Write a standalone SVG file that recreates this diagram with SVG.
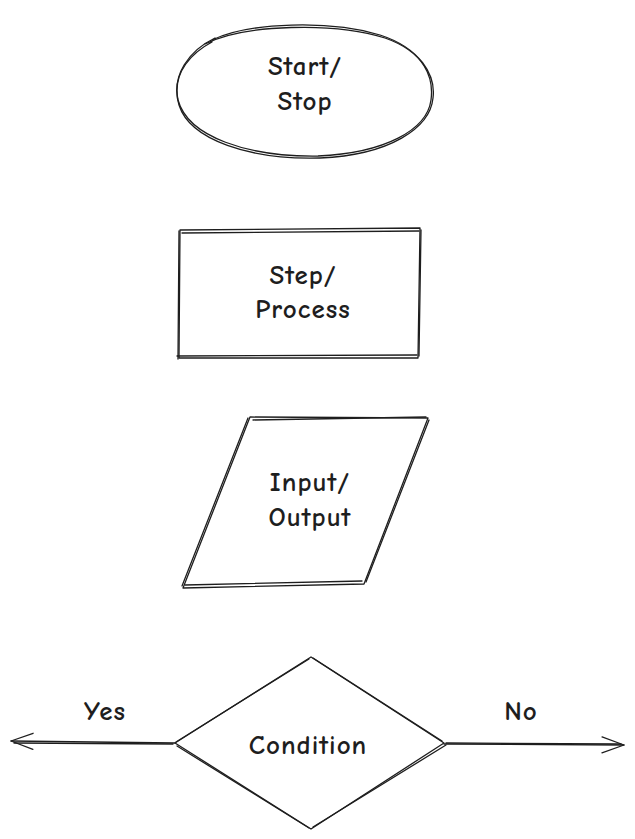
<svg xmlns="http://www.w3.org/2000/svg" width="635" height="839" viewBox="0 0 635 839">
<style>
.s{fill:none;stroke:#1e1e1e;stroke-width:1.3;stroke-linecap:round;stroke-linejoin:round}
.t{font-family:"Comic Neue","Open Sans","Liberation Sans",sans-serif;font-size:27px;font-weight:bold;letter-spacing:1px;fill:#1e1e1e;text-anchor:middle}
</style>
<defs>
<marker id="ah" markerWidth="26" markerHeight="18" refX="23" refY="9" orient="auto" markerUnits="userSpaceOnUse">
<path d="M1,1 L23,9 L1,17" class="s"/>
</marker>
</defs>
<rect width="635" height="839" fill="#ffffff"/>
<g id="start-stop">
<path class="s" d="M212,40 C250,22 330,20 380,35 C420,48 436,75 433,98 C430,128 390,155 320,158 C250,160 190,140 179,105 C170,75 190,50 215,38"/>
<path class="s" d="M205,44 C245,24 335,22 385,38 C425,52 434,78 431,100 C427,130 385,153 318,156 C248,157 188,137 178,100 C172,72 193,52 212,42"/>
<text class="t" x="305" y="75">Start/</text>
<text class="t" x="305" y="110">Stop</text>
</g>
<g id="step-process">
<path class="s" d="M180,230 L420,228 L418,358 L179,358 Z"/>
<path class="s" d="M182,233 L419,231 M421,230 L419,356 M177,356 L417,355 M179,231 L178,359"/>
<text class="t" x="303" y="284">Step/</text>
<text class="t" x="303" y="318">Process</text>
</g>
<g id="input-output">
<path class="s" d="M250,417 L428,418 L364,584 L183,588 Z"/>
<path class="s" d="M253,420 L426,417 M429,420 L366,582 M185,585 L362,581 M248,418 L182,586"/>
<text class="t" x="310" y="491">Input/</text>
<text class="t" x="310" y="526">Output</text>
</g>
<g id="condition">
<path class="s" d="M311,657 L444,743 L311,829 L175,743 Z"/>
<path class="s" d="M309,659 L176,742 M313,658 L442,741 M446,745 L313,827 M177,746 L309,828"/>
<text class="t" x="308" y="754">Condition</text>
</g>
<g id="connectors">
<path class="s" d="M175,743 L11,741" marker-end="url(#ah)"/>
<path class="s" d="M173,744 L14,743"/>
<path class="s" d="M444,744 L624,745" marker-end="url(#ah)"/>
<path class="s" d="M446,743 L621,744"/>
<text class="t" x="105" y="720">Yes</text>
<text class="t" x="521" y="720">No</text>
</g>
</svg>
